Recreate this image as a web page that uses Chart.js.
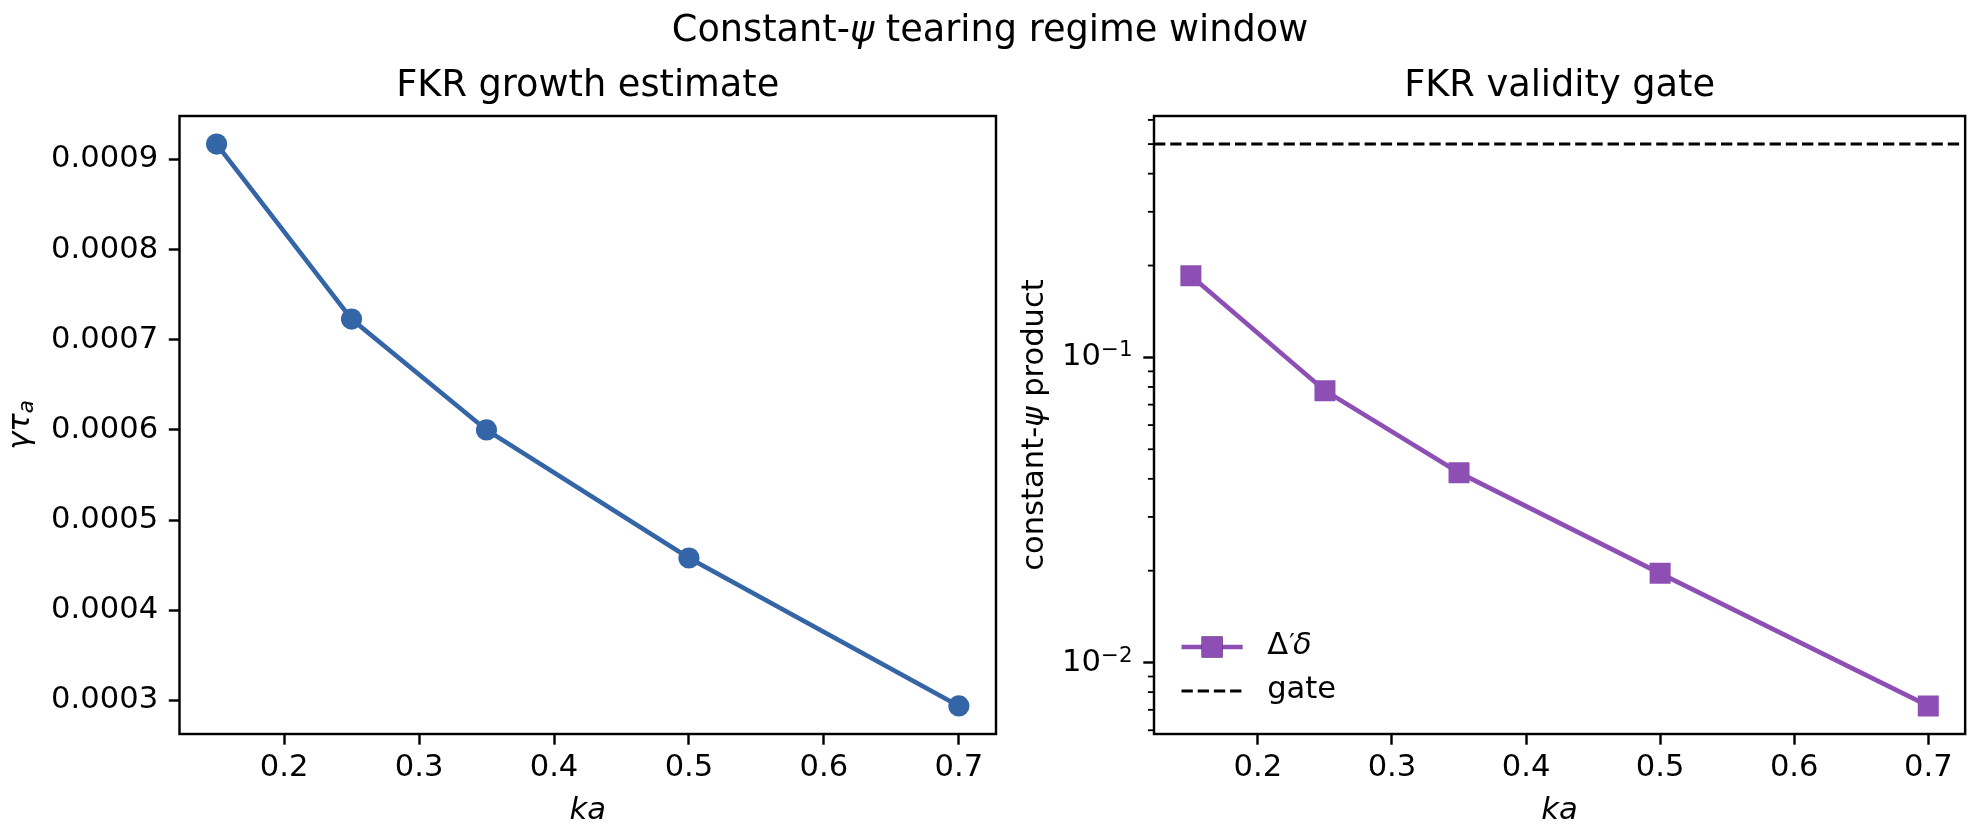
<!DOCTYPE html>
<html><head><meta charset="utf-8">
<script src="https://cdn.jsdelivr.net/npm/chart.js@4.4.1/dist/chart.umd.min.js"></script>
<style>
html,body{margin:0;padding:0;background:#fff;}
#fig{position:relative;width:1980px;height:836px;overflow:hidden;font-family:"DejaVu Sans";background:#fff;}
#suptitle{position:absolute;left:0;width:1980px;top:11px;text-align:center;font-size:36.7px;line-height:36.7px;color:#000;white-space:nowrap;}
#c1wrap{position:absolute;left:0;top:0;width:1010px;height:836px;}
#c2wrap{position:absolute;left:1010px;top:0;width:970px;height:836px;}
</style></head><body>
<div id="fig">
<div id="c1wrap"><canvas id="c1" width="1010" height="836"></canvas></div>
<div id="c2wrap"><canvas id="c2" width="970" height="836"></canvas></div>
<div id="suptitle">Constant-<i>ψ</i> tearing regime window</div>
</div>
<script>
// ---- data ----
const ka = [0.15, 0.25, 0.35, 0.5, 0.7];
const growth = [0.000917, 0.000723, 0.000600, 0.000458, 0.000294];
const product = [0.185, 0.0778, 0.0419, 0.0196, 0.00721];
const gateValue = 0.5;
const xTicks = [0.2, 0.3, 0.4, 0.5, 0.6, 0.7];
const xTickLabels = ['0.2', '0.3', '0.4', '0.5', '0.6', '0.7'];
const growthTicks = [0.0003, 0.0004, 0.0005, 0.0006, 0.0007, 0.0008, 0.0009];
const growthTickLabels = ['0.0003', '0.0004', '0.0005', '0.0006', '0.0007', '0.0008', '0.0009'];
const productTicks = [0.01, 0.1];
const productTickBase = ['10', '10'];
const productTickExp = ['\u22122', '\u22121'];
const productMinorTicks = [0.006, 0.007, 0.008, 0.009, 0.02, 0.03, 0.04, 0.05, 0.06, 0.07, 0.08, 0.09, 0.2, 0.3, 0.4, 0.5, 0.6];
const titles = ['FKR growth estimate', 'FKR validity gate'];
const seriesLabels = ['\u0394\u2032\u03B4', 'gate'];
// axis label pieces: [text, style, scale, shift]
const yLabel1 = [['\u03B3\u03C4', 'italic', 1, 0], ['a', 'italic', 0.7, 6]];
const yLabel2 = [['constant-', 'normal', 1, 0], ['\u03C8', 'italic', 1, 0], [' product', 'normal', 1, 0]];

// ---- styles ----
const BLUE = '#3465a6';
const PURPLE = '#8e4fb5';
const FS = 30.6, TFS = 36.7;
const SPINE = 2.44, TICKLEN = 10.7, TICKPAD = 10.7;
const SUPFS = FS * 0.7;

Chart.defaults.font.family = 'DejaVu Sans';
Chart.defaults.font.size = FS;
Chart.defaults.color = '#000';

function linMargin(arr) {
  const mn = Math.min(...arr), mx = Math.max(...arr), m = 0.05 * (mx - mn);
  return [mn - m, mx + m];
}
function logMargin(arr) {
  const l = arr.map(v => Math.log10(v));
  const mn = Math.min(...l), mx = Math.max(...l), m = 0.05 * (mx - mn);
  return [Math.pow(10, mn - m), Math.pow(10, mx + m)];
}
const [xMin, xMax] = linMargin(ka);
const [gMin, gMax] = linMargin(growth);
const [pMin, pMax] = logMargin(product.concat([gateValue]));

function font(style, size) { return (style === 'italic' ? 'italic ' : '') + size + 'px "DejaVu Sans"'; }

// measure superscript width for tick padding
const mctx = document.createElement('canvas').getContext('2d');
mctx.font = font('normal', SUPFS);
const supW = Math.max(...productTickExp.map(t => mctx.measureText(t).width));

const spinesPlugin = {
  id: 'spines',
  afterDraw(chart) {
    const a = chart.chartArea, ctx = chart.ctx;
    ctx.save();
    ctx.strokeStyle = '#000';
    ctx.lineWidth = SPINE;
    ctx.lineJoin = 'miter';
    ctx.strokeRect(a.left, a.top, a.right - a.left, a.bottom - a.top);
    ctx.restore();
  }
};
const minorTicksPlugin = {
  id: 'minorTicks',
  afterDraw(chart, args, opts) {
    if (!opts || !opts.values) return;
    const s = chart.scales.y, ctx = chart.ctx, left = chart.chartArea.left;
    ctx.save();
    ctx.strokeStyle = '#000';
    ctx.lineWidth = 1.83;
    opts.values.forEach(v => {
      const y = s.getPixelForValue(v);
      ctx.beginPath(); ctx.moveTo(left, y); ctx.lineTo(left - 6.1, y); ctx.stroke();
    });
    ctx.restore();
  }
};
const supPlugin = {
  id: 'supLabels',
  afterDraw(chart, args, opts) {
    if (!opts || !opts.exps) return;
    const s = chart.scales.y, ctx = chart.ctx, left = chart.chartArea.left;
    ctx.save();
    ctx.fillStyle = '#000';
    ctx.font = font('normal', SUPFS);
    ctx.textAlign = 'right';
    ctx.textBaseline = 'alphabetic';
    s.ticks.forEach((t, i) => {
      const y = s.getPixelForValue(t.value);
      ctx.fillText(opts.exps[i], left - TICKLEN - TICKPAD, y + 10.6 - 11.5);
    });
    ctx.restore();
  }
};
const yTitlePlugin = {
  id: 'richYTitle',
  afterDraw(chart, args, opts) {
    if (!opts || !opts.parts) return;
    const ctx = chart.ctx, a = chart.chartArea;
    const cy = (a.top + a.bottom) / 2;
    ctx.save();
    let total = 0;
    const widths = opts.parts.map(p => { ctx.font = font(p[1], FS * p[2]); const w = ctx.measureText(p[0]).width; total += w; return w; });
    ctx.translate(opts.x, cy);
    ctx.rotate(-Math.PI / 2);
    ctx.fillStyle = '#000';
    ctx.textAlign = 'left';
    ctx.textBaseline = 'middle';
    let x = -total / 2;
    opts.parts.forEach((p, i) => {
      ctx.font = font(p[1], FS * p[2]);
      ctx.fillText(p[0], x, p[3]);
      x += widths[i];
    });
    ctx.restore();
  }
};
const legendPlugin = {
  id: 'mplLegend',
  afterDraw(chart, args, opts) {
    if (!opts || !opts.show) return;
    const ctx = chart.ctx, a = chart.chartArea;
    const x0 = a.left + 27.5, hl = 61.2, tx = x0 + hl + 24.5;
    const rows = [a.bottom - 87, a.bottom - 43];
    chart.data.datasets.forEach((ds, i) => {
      const y = rows[i];
      ctx.save();
      ctx.strokeStyle = ds.borderColor;
      ctx.lineWidth = ds.borderWidth;
      ctx.setLineDash(ds.borderDash || []);
      ctx.beginPath(); ctx.moveTo(x0, y); ctx.lineTo(x0 + hl, y); ctx.stroke();
      ctx.setLineDash([]);
      if (ds.pointRadius > 0) {
        Chart.helpers.drawPoint(ctx, {pointStyle: ds.pointStyle, radius: ds.pointRadius, borderWidth: 0, rotation: 0}, x0 + hl / 2, y);
        ctx.fillStyle = ds.pointBackgroundColor;
        ctx.fill();
      }
      ctx.fillStyle = '#000';
      ctx.textBaseline = 'alphabetic';
      ctx.textAlign = 'left';
      const base = y + 7;
      if (ds.label === seriesLabels[0]) {
        ctx.font = font('normal', FS);
        ctx.fillText('\u0394', tx, base);
        let w = ctx.measureText('\u0394').width + 1;
        ctx.font = font('normal', FS * 0.8);
        ctx.fillText('\u2032', tx + w, base - 3);
        w += ctx.measureText('\u2032').width * 0.7;
        ctx.font = font('italic', FS);
        ctx.fillText('\u03B4', tx + w, base);
      } else {
        ctx.font = font('normal', FS);
        ctx.fillText(ds.label, tx, base);
      }
      ctx.restore();
    });
  }
};

function baseOptions(cfg) {
  return {
    responsive: false,
    animation: false,
    devicePixelRatio: 1,
    layout: {padding: {left: 0, right: cfg.padRight, top: 0, bottom: 0}},
    plugins: {
      legend: {display: false},
      tooltip: {enabled: false},
      title: {
        display: true, text: cfg.title, fullSize: false, color: '#000',
        font: {size: TFS, weight: 'normal', lineHeight: 1.2},
        padding: {top: 64, bottom: 116 - 64 - TFS * 1.2}
      },
      minorTicks: cfg.minor ? {values: cfg.minor} : {},
      supLabels: cfg.exps ? {exps: cfg.exps} : {},
      richYTitle: {parts: cfg.yParts, x: cfg.yTitleX},
      mplLegend: {show: cfg.legend}
    },
    scales: {
      x: {
        type: 'linear', min: xMin, max: xMax,
        afterBuildTicks: s => { s.ticks = xTicks.map(v => ({value: v})); },
        afterFit: s => { s.height = 836 - 734; },
        ticks: {callback: (v, i) => xTickLabels[i], padding: 5, maxRotation: 0, autoSkip: false, font: {size: FS}},
        grid: {display: true, drawOnChartArea: false, drawTicks: true, tickLength: TICKLEN, tickWidth: SPINE, tickColor: '#000'},
        border: {display: false},
        title: {display: true, text: 'ka', font: {size: FS, style: 'italic'}, padding: {top: 0, bottom: 6.6}}
      },
      y: Object.assign({
        afterFit: s => { s.width = cfg.yWidth; },
        grid: {display: true, drawOnChartArea: false, drawTicks: true, tickLength: TICKLEN, tickWidth: SPINE, tickColor: '#000'},
        border: {display: false},
        title: {display: false}
      }, cfg.y)
    }
  };
}

new Chart(document.getElementById('c1'), {
  type: 'line',
  data: {
    datasets: [{
      label: 'growth',
      data: ka.map((k, i) => ({x: k, y: growth[i]})),
      borderColor: BLUE, backgroundColor: BLUE, borderWidth: 4.6,
      pointStyle: 'circle', pointRadius: 10.6, pointBackgroundColor: BLUE, pointBorderWidth: 0,
      tension: 0, fill: false
    }]
  },
  options: baseOptions({
    title: titles[0], padRight: 14, yWidth: 179.5, yParts: yLabel1, yTitleX: 21, legend: false,
    y: {
      type: 'linear', min: gMin, max: gMax,
      afterBuildTicks: s => { s.ticks = growthTicks.map(v => ({value: v})); },
      ticks: {callback: (v, i) => growthTickLabels[i], padding: TICKPAD, autoSkip: false, font: {size: FS}}
    }
  }),
  plugins: [spinesPlugin, minorTicksPlugin, supPlugin, yTitlePlugin, legendPlugin]
});

new Chart(document.getElementById('c2'), {
  type: 'line',
  data: {
    datasets: [{
      label: seriesLabels[0],
      data: ka.map((k, i) => ({x: k, y: product[i]})),
      borderColor: PURPLE, backgroundColor: PURPLE, borderWidth: 4.6,
      pointStyle: 'rect', pointRadius: 14.85, pointBackgroundColor: PURPLE, pointBorderWidth: 0,
      tension: 0, fill: false
    }, {
      label: seriesLabels[1],
      data: [{x: xMin, y: gateValue}, {x: xMax, y: gateValue}],
      borderColor: '#000', backgroundColor: '#000', borderWidth: 3.06, borderDash: [11.3, 4.9],
      pointRadius: 0, tension: 0, fill: false
    }]
  },
  options: baseOptions({
    title: titles[1], padRight: 10, yWidth: 144, yParts: yLabel2, yTitleX: 25, legend: true,
    minor: productMinorTicks, exps: productTickExp,
    y: {
      type: 'logarithmic', min: pMin, max: pMax,
      afterBuildTicks: s => { s.ticks = productTicks.map(v => ({value: v, major: true})); },
      ticks: {callback: (v, i) => productTickBase[i], padding: TICKPAD + supW, autoSkip: false, font: {size: FS}}
    }
  }),
  plugins: [spinesPlugin, minorTicksPlugin, supPlugin, yTitlePlugin, legendPlugin]
});
</script>
</body></html>
